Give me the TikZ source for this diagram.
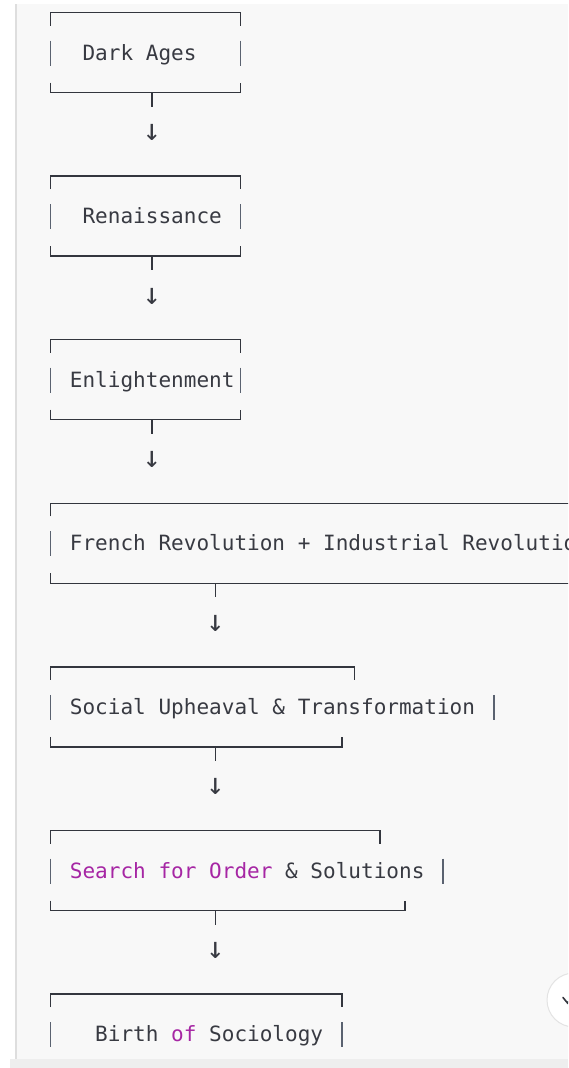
\documentclass[tikz,border=0pt]{standalone}
\usepackage{fontspec}
\newfontfamily\codefont{DejaVu Sans Mono}
\definecolor{pagebg}{HTML}{F8F8F8}
\definecolor{bordercol}{HTML}{DEDEDE}
\definecolor{bandcol}{HTML}{EEEEEE}
\definecolor{codedark}{HTML}{383A42}
\definecolor{linegray}{HTML}{33363E}
\definecolor{bargray}{HTML}{5A6270}
\definecolor{kw}{HTML}{A626A4}
\definecolor{circlecol}{HTML}{E3E3E3}
\newcommand\asciitop[2]{% #1 = top y, #2 = right x
  \draw[boxline] (50.73,#1+13) -- (50.73,#1) -- (#2,#1) -- (#2,#1+13);}
\newcommand\asciibottom[2]{% #1 = top y, #2 = right x
  \draw[boxline] (50.73,#1+70) -- (50.73,#1+80) -- (#2,#1+80) -- (#2,#1+70);}
\newcommand\asciibars[2]{% #1 = top y, #2 = right bar x
  \draw[barline] (50.73,#1+28) -- (50.73,#1+53);
  \draw[barline] (#2,#1+28) -- (#2,#1+53);}
\begin{document}
\begin{tikzpicture}[x=1pt,y=-1pt,
  boxline/.style={draw=linegray, line width=1.5pt, line join=miter},
  barline/.style={draw=bargray, line width=1.5pt},
  codetext/.style={anchor=base west, inner sep=0pt, text=codedark,
    font=\codefont\fontsize{21.03}{25}\selectfont},
  arrowglyph/.style={anchor=center, inner sep=0pt, text=codedark,
    font=\codefont\fontsize{30}{34}\selectfont}]
\useasboundingbox (0,0) rectangle (568,1068);
\clip (0,0) rectangle (568,1068);
% page background
\fill[white] (0,0) rectangle (568,1068);
\fill[pagebg] (16,4) rectangle (568,1059);
\fill[bandcol] (10,1059) rectangle (568,1068);
\draw[bordercol, line width=2pt] (16,4) -- (16,1059);

% box 1
\asciitop{12.5}{240.6}
\asciibars{12.5}{240.6}
\asciibottom{12.5}{240.6}
\node[codetext] (t1) at (82.38,60) {Dark Ages};
\coordinate (s1) at (152,92.5);
\coordinate (s1e) at (152,106.5);
\draw[boxline] (s1) -- (s1e);
\node[arrowglyph] (a1) at (152,132.5) {↓};

% box 2
\asciitop{176.1}{240.6}
\asciibars{176.1}{240.6}
\asciibottom{176.1}{240.6}
\node[codetext] (t2) at (82.38,223.6) {Renaissance};
\coordinate (s2) at (152,256.1);
\coordinate (s2e) at (152,270.1);
\draw[boxline] (s2) -- (s2e);
\node[arrowglyph] (a2) at (152,296.1) {↓};

% box 3
\asciitop{339.7}{240.6}
\asciibars{339.7}{240.6}
\asciibottom{339.7}{240.6}
\node[codetext] (t3) at (69.72,387.2) {Enlightenment};
\coordinate (s3) at (152,419.7);
\coordinate (s3e) at (152,433.7);
\draw[boxline] (s3) -- (s3e);
\node[arrowglyph] (a3) at (152,459.7) {↓};

% box 4 (runs past the right edge, as in the reference)
\asciitop{503.3}{620}
\draw[barline] (50.73,531.3) -- (50.73,556.3);
\asciibottom{503.3}{620}
\node[codetext] (t4) at (69.72,550.8) {French Revolution + Industrial Revolution};
\coordinate (s4) at (215.3,583.3);
\coordinate (s4e) at (215.3,597.3);
\draw[boxline] (s4) -- (s4e);
\node[arrowglyph] (a4) at (215.3,623.3) {↓};

% box 5
\asciitop{666.9}{354.6}
\asciibars{666.9}{493.8}
\asciibottom{666.9}{341.9}
\node[codetext] (t5) at (69.72,714.4) {Social Upheaval \& Transformation};
\coordinate (s5) at (215.3,746.9);
\coordinate (s5e) at (215.3,760.9);
\draw[boxline] (s5) -- (s5e);
\node[arrowglyph] (a5) at (215.3,786.9) {↓};

% box 6
\asciitop{830.5}{379.9}
\asciibars{830.5}{443.2}
\asciibottom{830.5}{405.2}
\node[codetext] (t6) at (69.72,878) {\textcolor{kw}{Search for Order} \& Solutions};
\coordinate (s6) at (215.3,910.5);
\coordinate (s6e) at (215.3,924.5);
\draw[boxline] (s6) -- (s6e);
\node[arrowglyph] (a6) at (215.3,950.5) {↓};

% box 7
\asciitop{994.1}{341.9}
\asciibars{994.1}{341.9}
\node[codetext] (t7) at (95.04,1041.6) {Birth \textcolor{kw}{of} Sociology};

% band over the bottom
\fill[bandcol] (10,1059) rectangle (568,1068);

% scroll button at the right edge
\draw[fill=white, draw=circlecol, line width=1pt] (574,1000) circle (27);
\draw[linegray, line width=1.6pt, line cap=round] (563,997.5) -- (567.5,1003) -- (572,997.5);
\end{tikzpicture}
\end{document}
